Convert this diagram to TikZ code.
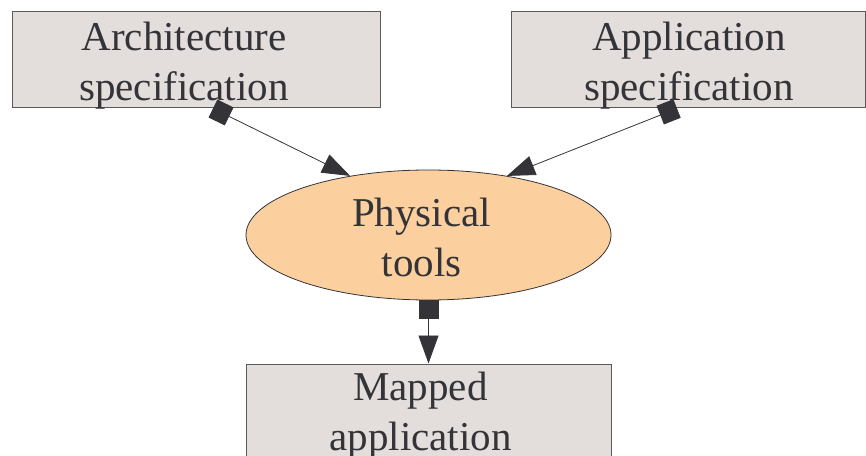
\documentclass[tikz,border=0pt]{standalone}
\usepackage{fontspec}
\setmainfont{Liberation Serif}
\usetikzlibrary{arrows.meta,positioning,shapes.geometric,calc}
\definecolor{boxgray}{RGB}{227,222,220}
\definecolor{toolorange}{RGB}{252,208,158}
\definecolor{inkgray}{RGB}{51,51,56}
\definecolor{edgegray}{RGB}{90,90,90}

\begin{document}
\begin{tikzpicture}[x=1pt,y=1pt,
    specbox/.style={draw=edgegray,line width=1pt,fill=boxgray,rectangle,inner sep=0pt},
    toolnode/.style={draw=inkgray,line width=0.8pt,fill=toolorange,ellipse,inner sep=0pt},
    caption/.style={align=center,text=inkgray,font=\fontsize{41}{50}\selectfont,inner sep=0pt},
    link/.style={draw=inkgray,line width=0.8pt,
      {Square[length=18pt,width=20pt]}-{Triangle[length=28pt,width=20pt]}}]
  % page is 866 x 455, y measured from the bottom edge
  \useasboundingbox (0,0) rectangle (866,455);

  % the three boxes and the tool in the middle
  \node[specbox,minimum width=368,minimum height=96] (arch) at (196,395) {};
  \node[specbox,minimum width=354,minimum height=96] (appl) at (688,395) {};
  \node[toolnode,minimum width=365,minimum height=130] (phys) at (428.5,220) {};
  \node[specbox,minimum width=365,minimum height=96] (mapped) at (428.5,43) {};

  % their texts, set a little off centre as in the source
  \node[caption] (archtext) at ([xshift=-12,yshift=-6]arch.center) {Architecture\\specification};
  \node[caption] (appltext) at ([xshift=1,yshift=-6]appl.center) {Application\\specification};
  \node[caption] (phystext) at ([xshift=-7,yshift=-2]phys.center) {Physical\\tools};
  \node[caption] (mappedtext) at ([xshift=-8,yshift=-4]mapped.center) {Mapped\\application};

  % tails of the two upper links
  \coordinate (archout) at ($(arch.south west)!0.546!(arch.south east)$);
  \coordinate (applout) at ($(appl.south west)!0.469!(appl.south east)$);

  % links
  \draw[link] (archout) -- (phys.143);
  \draw[link] (applout) -- (phys.37);
  \draw[link] (phys.south) -- (mapped.north);
\end{tikzpicture}
\end{document}
